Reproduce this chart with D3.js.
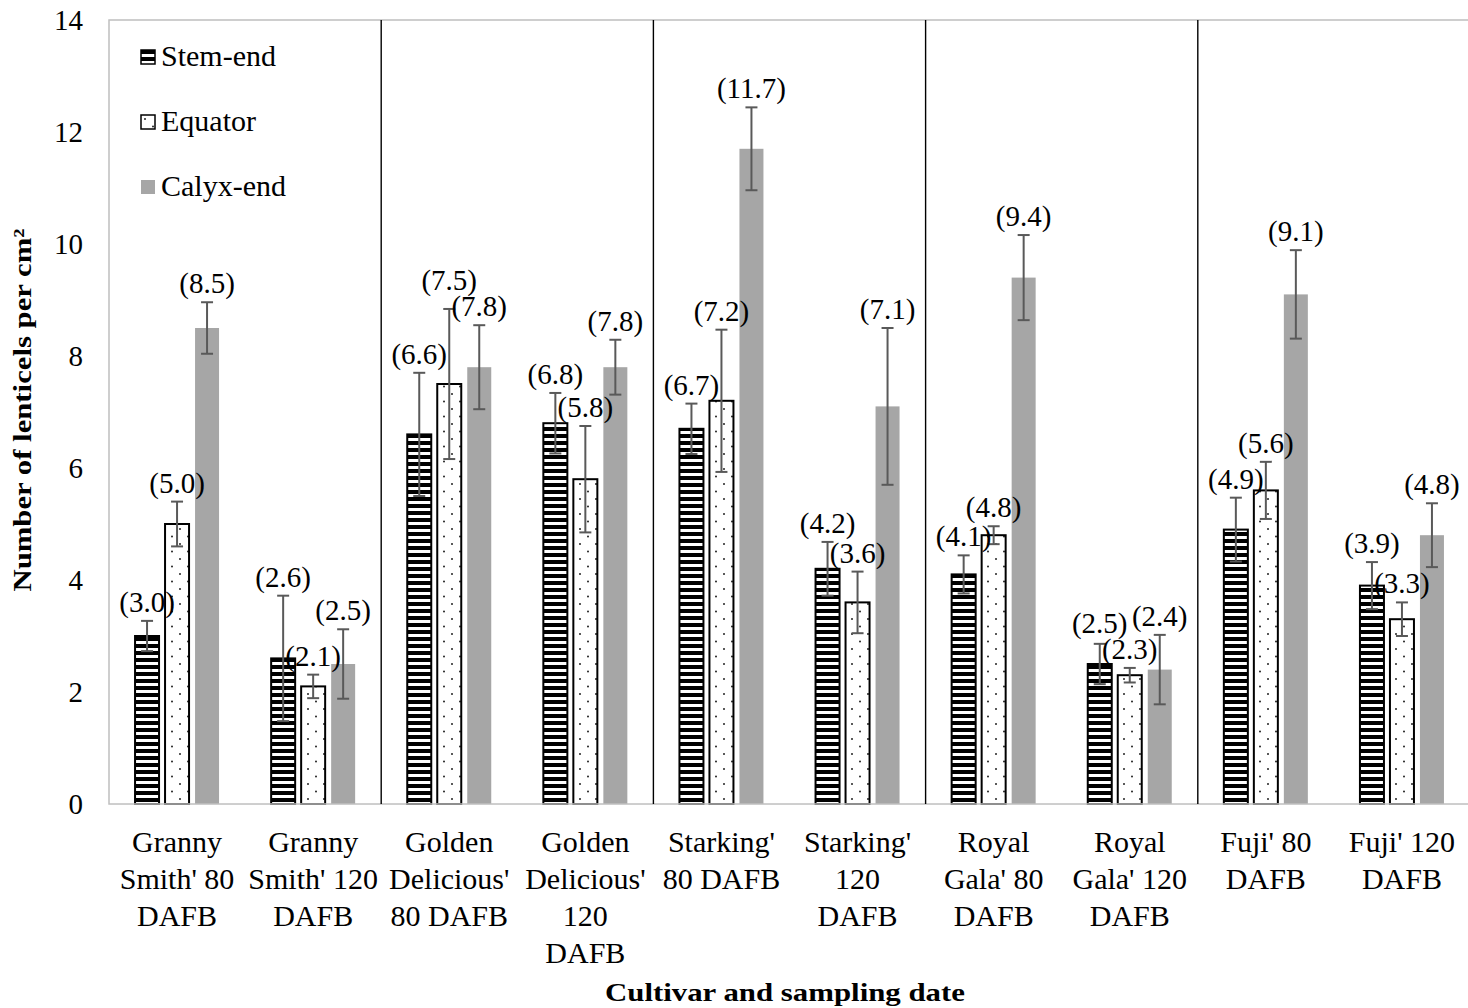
<!DOCTYPE html>
<html>
<head>
<meta charset="utf-8">
<script src="https://cdn.jsdelivr.net/npm/d3@7"></script>
<style>
  body { margin: 0; background: #fff; }
  svg { display: block; }
  text { font-family: "Liberation Serif", "Times New Roman", Times, serif; fill: #000; }
</style>
</head>
<body>
<svg id="chart" width="1468" height="1008"></svg>
<script>
// Cultivar / sampling-date categories, one entry per wrapped label line
const categories = [
  ["Granny", "Smith' 80", "DAFB"],
  ["Granny", "Smith' 120", "DAFB"],
  ["Golden", "Delicious'", "80 DAFB"],
  ["Golden", "Delicious'", "120", "DAFB"],
  ["Starking'", "80 DAFB"],
  ["Starking'", "120", "DAFB"],
  ["Royal", "Gala' 80", "DAFB"],
  ["Royal", "Gala' 120", "DAFB"],
  ["Fuji' 80", "DAFB"],
  ["Fuji' 120", "DAFB"]
];

const seriesNames = ["Stem-end", "Equator", "Calyx-end"];

// Mean lenticel density (per cm²) and its standard deviation
const stemEnd    = [3.0, 2.6, 6.6, 6.8, 6.7, 4.2, 4.1, 2.5, 4.9, 3.9];
const stemEndSD  = [0.27, 1.12, 1.10, 0.54, 0.45, 0.48, 0.34, 0.36, 0.57, 0.42];
const equator    = [5.0, 2.1, 7.5, 5.8, 7.2, 3.6, 4.8, 2.3, 5.6, 3.3];
const equatorSD  = [0.40, 0.21, 1.34, 0.95, 1.27, 0.55, 0.16, 0.13, 0.51, 0.30];
const calyxEnd   = [8.5, 2.5, 7.8, 7.8, 11.7, 7.1, 9.4, 2.4, 9.1, 4.8];
const calyxEndSD = [0.46, 0.62, 0.75, 0.49, 0.74, 1.40, 0.76, 0.62, 0.79, 0.57];

const yTicks = [0, 2, 4, 6, 8, 10, 12, 14];
// Two sampling dates per cultivar: dividers after these category indices
const cultivarBreaks = [1, 3, 5, 7];

const yTitle = "Number of lenticels per cm²";
const xTitle = "Cultivar and sampling date";

const seriesData = [
  { name: seriesNames[0], mean: stemEnd,  sd: stemEndSD,  fill: "url(#stripes)", stroke: "#000" },
  { name: seriesNames[1], mean: equator,  sd: equatorSD,  fill: "url(#dots)",    stroke: "#000" },
  { name: seriesNames[2], mean: calyxEnd, sd: calyxEndSD, fill: "#a6a6a6",       stroke: "none" }
];

const svg = d3.select("#chart");
const plot = { left: 109, top: 20, right: 1470, bottom: 804 };

// Fill patterns
const defs = svg.append("defs");
const stripes = defs.append("pattern").attr("id", "stripes")
  .attr("patternUnits", "userSpaceOnUse").attr("width", 8).attr("height", 7);
stripes.append("rect").attr("width", 8).attr("height", 7).attr("fill", "#fff");
stripes.append("rect").attr("width", 8).attr("height", 4).attr("fill", "#000");

const dots = defs.append("pattern").attr("id", "dots")
  .attr("patternUnits", "userSpaceOnUse").attr("width", 16).attr("height", 15);
dots.append("rect").attr("width", 16).attr("height", 15).attr("fill", "#fff");
dots.append("circle").attr("cx", 4).attr("cy", 4).attr("r", 1).attr("fill", "#222");
dots.append("circle").attr("cx", 12).attr("cy", 11.5).attr("r", 1).attr("fill", "#222");

// Scales
const x = d3.scaleBand().domain(d3.range(categories.length)).range([plot.left, plot.right]);
const xs = d3.scaleBand().domain(seriesNames).range([-45, 45]).paddingInner(0.2).paddingOuter(0.1);
const y = d3.scaleLinear().domain([0, 14]).range([plot.bottom, plot.top]);

// Flattened points for every series / category
const points = seriesData.flatMap(s => s.mean.map((v, i) => ({
  s, i, v, sd: s.sd[i],
  x0: x(i) + x.bandwidth() / 2 + xs(s.name),
  cx: x(i) + x.bandwidth() / 2 + xs(s.name) + xs.bandwidth() / 2
})));

// Layers: bars, frame, dividers, error bars, labels
const barLayer = svg.append("g");
const frameLayer = svg.append("g");
const errLayer = svg.append("g").attr("stroke", "#595959").attr("stroke-width", 2);
const labelLayer = svg.append("g");

barLayer.selectAll("rect").data(points).join("rect")
  .attr("x", d => d.x0)
  .attr("y", d => y(d.v))
  .attr("width", xs.bandwidth())
  .attr("height", d => y(0) - y(d.v))
  .attr("fill", d => d.s.fill)
  .attr("stroke", d => d.s.stroke)
  .attr("stroke-width", 2);

// Plot frame
frameLayer.append("rect")
  .attr("x", plot.left).attr("y", plot.top)
  .attr("width", plot.right - plot.left).attr("height", plot.bottom - plot.top)
  .attr("fill", "none").attr("stroke", "#bfbfbf").attr("stroke-width", 1.5);

// Cultivar dividers
frameLayer.selectAll("line")
  .data(cultivarBreaks).join("line")
  .attr("x1", i => x(i + 1)).attr("x2", i => x(i + 1))
  .attr("y1", plot.top).attr("y2", plot.bottom)
  .attr("stroke", "#000").attr("stroke-width", 1.4);

// Error bars (mean ± SD)
const cap = 6;
errLayer.selectAll("line.v").data(points).join("line").attr("class", "v")
  .attr("x1", d => d.cx).attr("x2", d => d.cx)
  .attr("y1", d => y(d.v - d.sd)).attr("y2", d => y(d.v + d.sd));
errLayer.selectAll("line.t").data(points).join("line").attr("class", "t")
  .attr("x1", d => d.cx - cap).attr("x2", d => d.cx + cap)
  .attr("y1", d => y(d.v + d.sd)).attr("y2", d => y(d.v + d.sd));
errLayer.selectAll("line.b").data(points).join("line").attr("class", "b")
  .attr("x1", d => d.cx - cap).attr("x2", d => d.cx + cap)
  .attr("y1", d => y(d.v - d.sd)).attr("y2", d => y(d.v - d.sd));

// Value labels above each error bar; labels that would collide inside a
// category are lifted above their neighbour.
const labelH = 26;
const labels = labelLayer.selectAll("text").data(points).join("text")
  .attr("x", d => d.cx)
  .attr("text-anchor", "middle")
  .attr("font-size", 29)
  .text(d => "(" + d.v.toFixed(1) + ")");
labels.each(function (d) {
  d.w = this.getComputedTextLength();
  d.ly = y(d.v + d.sd) - 9;
});
d3.groups(points, d => d.i).forEach(([, pts]) => {
  const placed = [];
  pts.slice().sort((a, b) => b.ly - a.ly).forEach(p => {
    let moved = true;
    while (moved) {
      moved = false;
      for (const q of placed) {
        if (Math.abs(p.cx - q.cx) < (p.w + q.w) / 2 && Math.abs(p.ly - q.ly) < labelH) {
          p.ly = q.ly - labelH;
          moved = true;
        }
      }
    }
    placed.push(p);
  });
});
labels.attr("y", d => d.ly);

// Y axis
const yAxis = svg.append("g")
  .attr("transform", `translate(${plot.left},0)`)
  .call(d3.axisLeft(y).tickValues(yTicks).tickSize(0).tickPadding(26).tickFormat(d3.format("d")));
yAxis.select(".domain").remove();
yAxis.selectAll("text")
  .attr("font-size", 29)
  .attr("font-family", "Liberation Serif, Times New Roman, serif")
  .attr("fill", "#000");

// X axis with wrapped category labels
const xAxis = svg.append("g")
  .attr("transform", `translate(0,${plot.bottom})`)
  .call(d3.axisBottom(x).tickSize(0).tickFormat(() => ""));
xAxis.select(".domain").remove();
xAxis.selectAll(".tick text").each(function (i) {
  const t = d3.select(this)
    .attr("y", 48).attr("dy", null)
    .attr("font-size", 30)
    .attr("font-family", "Liberation Serif, Times New Roman, serif")
    .attr("fill", "#000");
  categories[i].forEach((line, k) => {
    t.append("tspan").attr("x", 0).attr("dy", k === 0 ? 0 : 37).text(line);
  });
});

// Axis titles
svg.append("text")
  .attr("transform", "translate(31,410) rotate(-90)")
  .attr("text-anchor", "middle")
  .attr("font-weight", "bold")
  .attr("font-size", 25)
  .attr("textLength", 363)
  .attr("lengthAdjust", "spacingAndGlyphs")
  .text(yTitle);

svg.append("text")
  .attr("x", 785).attr("y", 1001)
  .attr("text-anchor", "middle")
  .attr("font-weight", "bold")
  .attr("font-size", 25)
  .attr("textLength", 360)
  .attr("lengthAdjust", "spacingAndGlyphs")
  .text(xTitle);

// Legend
const legend = svg.append("g").selectAll("g")
  .data(seriesData).join("g")
  .attr("transform", (d, k) => `translate(141,${50 + k * 65})`);
legend.append("rect")
  .attr("width", 14).attr("height", 14)
  .attr("fill", d => d.fill)
  .attr("stroke", d => d.stroke)
  .attr("stroke-width", 1.5);
legend.append("text")
  .attr("x", 20).attr("y", 16)
  .attr("font-size", 30)
  .text(d => d.name);
</script>
</body>
</html>
